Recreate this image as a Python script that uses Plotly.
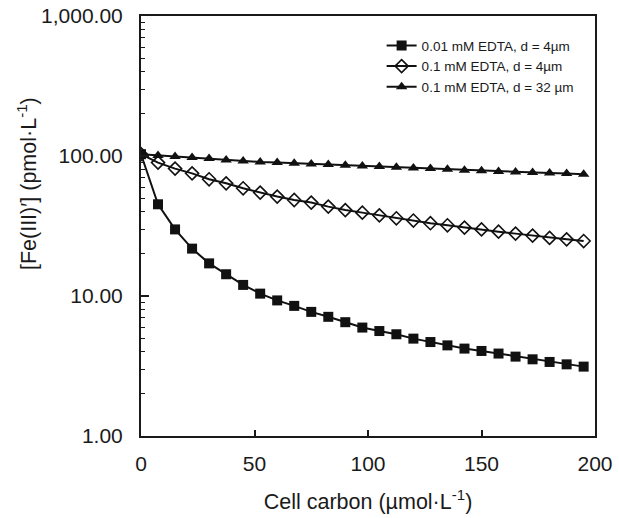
import plotly.graph_objects as go

x = [i * 7.5 for i in range(27)]

edta001_d4 = [103, 45.2, 29.9, 21.8, 17.1, 14.3, 12.0, 10.4, 9.3, 8.5, 7.7, 7.1,
              6.5, 5.95, 5.62, 5.33, 4.96, 4.69, 4.44, 4.21, 4.05, 3.88, 3.69,
              3.53, 3.38, 3.25, 3.13]
edta01_d4 = [103, 89.7, 81.3, 75.2, 68.2, 63.8, 58.8, 54.8, 51.3, 48.5, 46.5, 43.5,
             41.1, 39.4, 37.7, 35.9, 34.6, 33.1, 32.0, 30.8, 29.9, 28.8, 27.9,
             27.0, 26.0, 25.4, 24.7]
edta01_d32 = [103, 101, 99.0, 97.4, 95.8, 93.6, 92.1, 90.6, 89.7, 88.7, 87.7, 87.0,
              85.9, 84.9, 84.0, 83.0, 82.2, 81.3, 80.4, 79.2, 78.3, 77.5, 76.8,
              76.1, 75.5, 75.0, 74.0]

names = ["0.01 mM EDTA, d = 4µm", "0.1 mM EDTA, d = 4µm", "0.1 mM EDTA, d = 32 µm"]

y_tickvals = [1, 10, 100, 1000]
y_ticktext = ["1.00", "10.00", "100.00", "1,000.00"]
y_minor = [m * 10 ** e for e in range(0, 3) for m in range(2, 10)]
x_tickvals = [0, 50, 100, 150, 200]

fig = go.Figure()
fig.add_trace(go.Scatter(x=x, y=edta001_d4, name=names[0], mode="lines+markers",
                         line=dict(color="#111111", width=2),
                         marker=dict(symbol="square", size=10, color="#111111")))
fig.add_trace(go.Scatter(x=x, y=edta01_d4, name=names[1], mode="lines+markers",
                         line=dict(color="#111111", width=2),
                         marker=dict(symbol="diamond-open", size=10, color="#111111",
                                     line=dict(width=1.6))))
fig.add_trace(go.Scatter(x=x, y=edta01_d32, name=names[2], mode="lines+markers",
                         line=dict(color="#111111", width=2),
                         marker=dict(symbol="triangle-up", size=10, color="#111111")))

font = "Liberation Sans, Arial, sans-serif"
fig.update_layout(
    width=619, height=518,
    margin=dict(l=141, r=24, t=16, b=82),
    paper_bgcolor="white", plot_bgcolor="white",
    font=dict(family=font, color="#1a1a1a"),
    showlegend=True,
    legend=dict(x=0.53, y=0.966, xanchor="left", yanchor="top",
                font=dict(size=13.5, family=font), bgcolor="rgba(0,0,0,0)",
                tracegroupgap=0, itemwidth=30),
    xaxis=dict(range=[0, 200], tickvals=x_tickvals, ticks="inside", ticklen=6,
               tickwidth=1.5, tickcolor="#1a1a1a", showline=True, linewidth=2,
               linecolor="#1a1a1a", mirror=True, showgrid=False, zeroline=False,
               tickfont=dict(size=21), ticklabelstandoff=8, automargin=False,
               ticklabeloverflow="allow",
               title=dict(text="Cell carbon (µmol·L<sup>-1</sup>)", font=dict(size=21.5),
                          standoff=20)),
    yaxis=dict(type="log", range=[0, 3], tickvals=y_tickvals, ticktext=y_ticktext,
               ticks="inside", ticklen=8, tickwidth=1.5, tickcolor="#1a1a1a",
               minor=dict(tickvals=y_minor, ticks="inside", ticklen=4,
                          tickwidth=1.2, tickcolor="#1a1a1a", showgrid=False),
               showline=True, linewidth=2, linecolor="#1a1a1a", mirror=True,
               showgrid=False, zeroline=False, tickfont=dict(size=21),
               ticklabelstandoff=12, automargin=False, ticklabeloverflow="allow"),
    annotations=[dict(text="[Fe(III)′] (pmol·L<sup>-1</sup>)", xref="paper", yref="paper",
                      x=-0.251, y=0.60, xanchor="center", yanchor="middle",
                      textangle=-90, showarrow=False, font=dict(size=21.5, family=font))],
)

fig.write_html("out.html", config={"displayModeBar": False},
               post_script="document.body.style.margin='0';")
